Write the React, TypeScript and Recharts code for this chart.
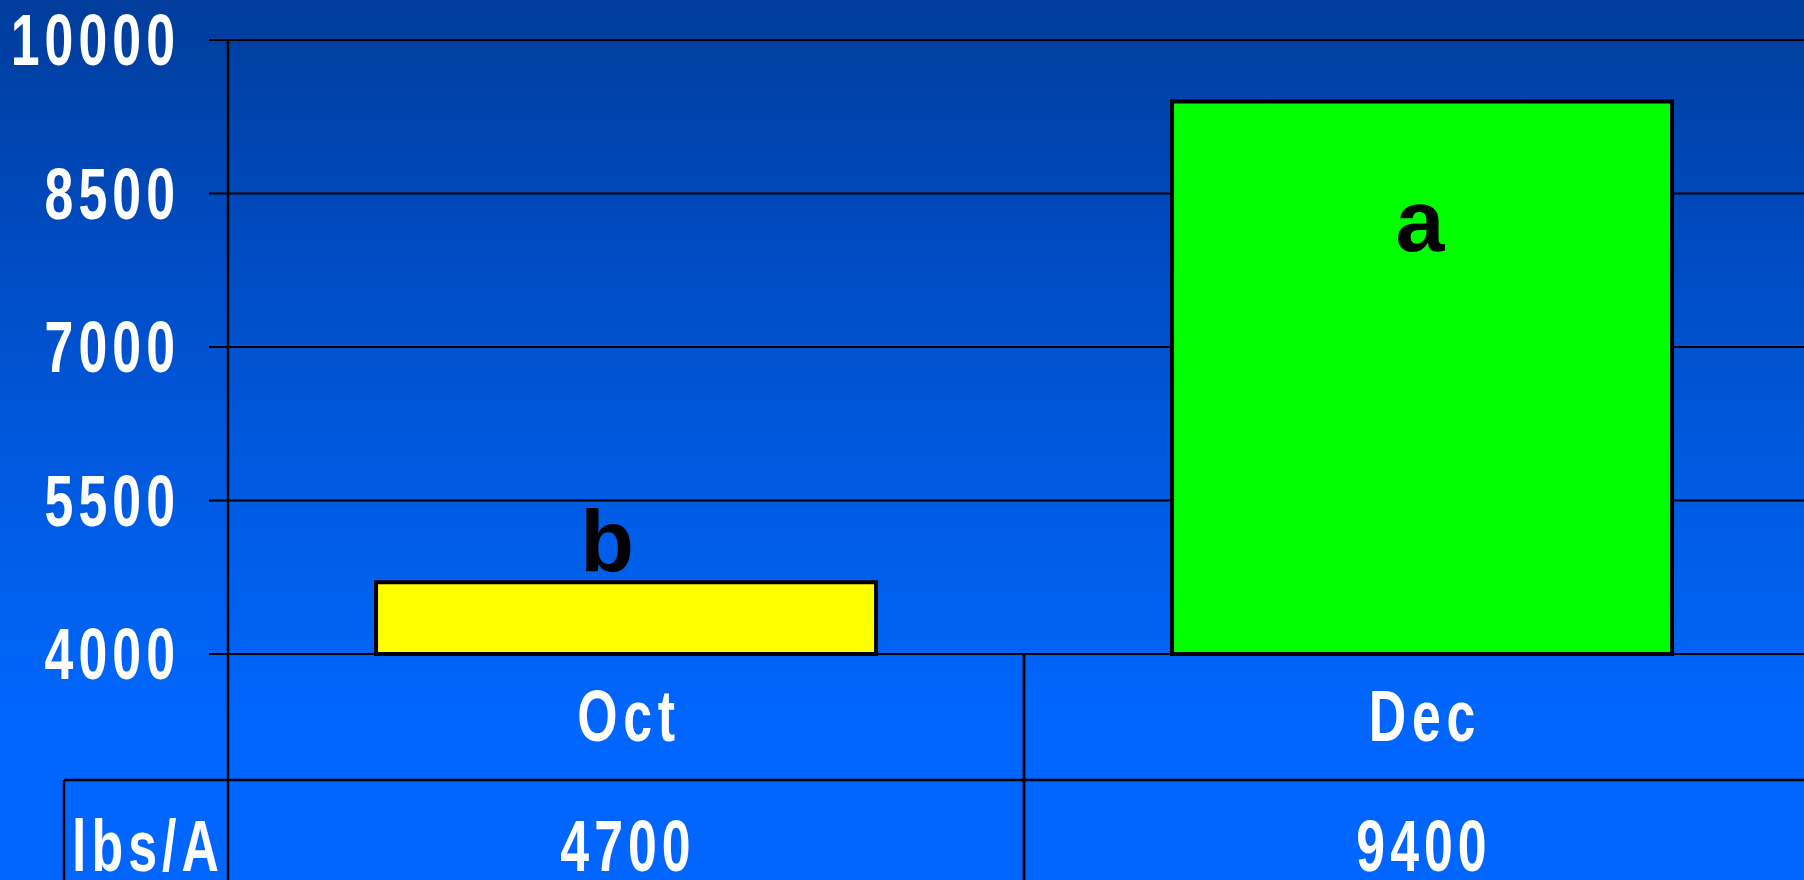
import React from 'react';
import { BarChart, Bar, XAxis, YAxis, CartesianGrid, Cell, LabelList } from 'recharts';

const categories = ['Oct', 'Dec'];
const yields = [4700, 9400];
const letters = ['b', 'a'];
const barColors = ['#FFFF00', '#00FF00'];
const yTicks = [4000, 5500, 7000, 8500, 10000];
const rowLabel = 'lbs/A';

const data = categories.map((c, i) => ({ cat: c, value: yields[i], letter: letters[i], color: barColors[i] }));

const CHART_W = 1820;
const CHART_H = 880;
const Y_AXIS_W = 228;
const X_AXIS_H = 226;
const FONT = '"Liberation Sans", Arial, Helvetica, sans-serif';
const SX = 0.72;

const YTick = (props: any) => {
  const { x, y, payload } = props;
  return (
    <g transform={`translate(${x - 29},${y + 25}) scale(${SX},1)`}>
      <text x={0} y={0} textAnchor="end" fill="#fff" fontFamily={FONT} fontWeight="bold" fontSize={72} style={{ letterSpacing: '7px' }}>
        {payload.value}
      </text>
    </g>
  );
};

const XTick = (props: any) => {
  const { x, y, payload, index } = props;
  const half = payload && typeof payload.offset === 'number' && payload.offset > 0 ? payload.offset : (CHART_W - Y_AXIS_W) / categories.length / 2;
  const left = x - half;
  const right = x + half;
  const bottom = y + X_AXIS_H;
  const rowY = y + 126;
  const i = typeof index === 'number' ? index : categories.indexOf(payload.value);
  return (
    <g>
      <line x1={left} y1={y} x2={left} y2={bottom} stroke="#000" strokeWidth={2.5} />
      <line x1={right} y1={y} x2={right} y2={bottom} stroke="#000" strokeWidth={2.5} />
      <line x1={left} y1={rowY} x2={right} y2={rowY} stroke="#000" strokeWidth={2.5} />
      <g transform={`translate(${x + 3},${y + 87}) scale(${SX},1)`}>
        <text x={0} y={0} textAnchor="middle" fill="#fff" fontFamily={FONT} fontWeight="bold" fontSize={72} style={{ letterSpacing: '8px' }}>
          {payload.value}
        </text>
      </g>
      <g transform={`translate(${x + 2},${y + 217}) scale(${SX},1)`}>
        <text x={0} y={0} textAnchor="middle" fill="#fff" fontFamily={FONT} fontWeight="bold" fontSize={72} style={{ letterSpacing: '7px' }}>
          {yields[i]}
        </text>
      </g>
      {i === 0 && (
        <g>
          <line x1={64} y1={rowY} x2={left} y2={rowY} stroke="#000" strokeWidth={2.5} />
          <line x1={64} y1={rowY} x2={64} y2={bottom} stroke="#000" strokeWidth={2.5} />
          <g transform={`translate(${(64 + left) / 2 + 2},${y + 217}) scale(${SX},1)`}>
            <text x={0} y={0} textAnchor="middle" fill="#fff" fontFamily={FONT} fontWeight="bold" fontSize={72} style={{ letterSpacing: '7px' }}>
              {rowLabel}
            </text>
          </g>
        </g>
      )}
    </g>
  );
};

const LetterLabel = (props: any) => {
  const { x, y, width, height, value } = props;
  const inside = height > 200;
  const cx = x + width / 2 + (inside ? -2 : -19);
  const by = inside ? y + 150 : y - 11;
  return (
    <text x={cx} y={by} textAnchor="middle" fill="#000" fontFamily={FONT} fontWeight="bold" fontSize={88}>
      {value}
    </text>
  );
};

export default function App() {
  return (
    <div
      style={{
        position: 'fixed',
        left: 0,
        top: 0,
        width: 1804,
        height: 880,
        overflow: 'hidden',
        background: 'linear-gradient(to bottom, #003d9c 0%, #004cc4 30%, #0058dc 50%, #0062f2 72%, #0066ff 82%, #0066ff 100%)',
      }}
    >
      <BarChart
        width={CHART_W}
        height={CHART_H}
        data={data}
        margin={{ top: 40, right: 0, bottom: 0, left: 0 }}
        barCategoryGap="18.6%"
      >
        <CartesianGrid vertical={false} stroke="#000" strokeWidth={2} />
        <XAxis
          dataKey="cat"
          height={X_AXIS_H}
          tickLine={false}
          tickSize={0}
          tickMargin={0}
          interval={0}
          axisLine={{ stroke: '#000', strokeWidth: 2 }}
          tick={(p: any) => <XTick {...p} />}
        />
        <YAxis
          type="number"
          domain={[4000, 10000]}
          ticks={yTicks}
          interval={0}
          width={Y_AXIS_W}
          tickSize={19}
          tickMargin={0}
          axisLine={{ stroke: '#000', strokeWidth: 2.5 }}
          tickLine={{ stroke: '#000', strokeWidth: 2 }}
          tick={(p: any) => <YTick {...p} />}
        />
        <Bar dataKey="value" stroke="#000" strokeWidth={4} isAnimationActive={false}>
          {data.map((d, i) => (
            <Cell key={i} fill={d.color} />
          ))}
          <LabelList dataKey="letter" content={(p: any) => <LetterLabel {...p} />} />
        </Bar>
      </BarChart>
    </div>
  );
}
